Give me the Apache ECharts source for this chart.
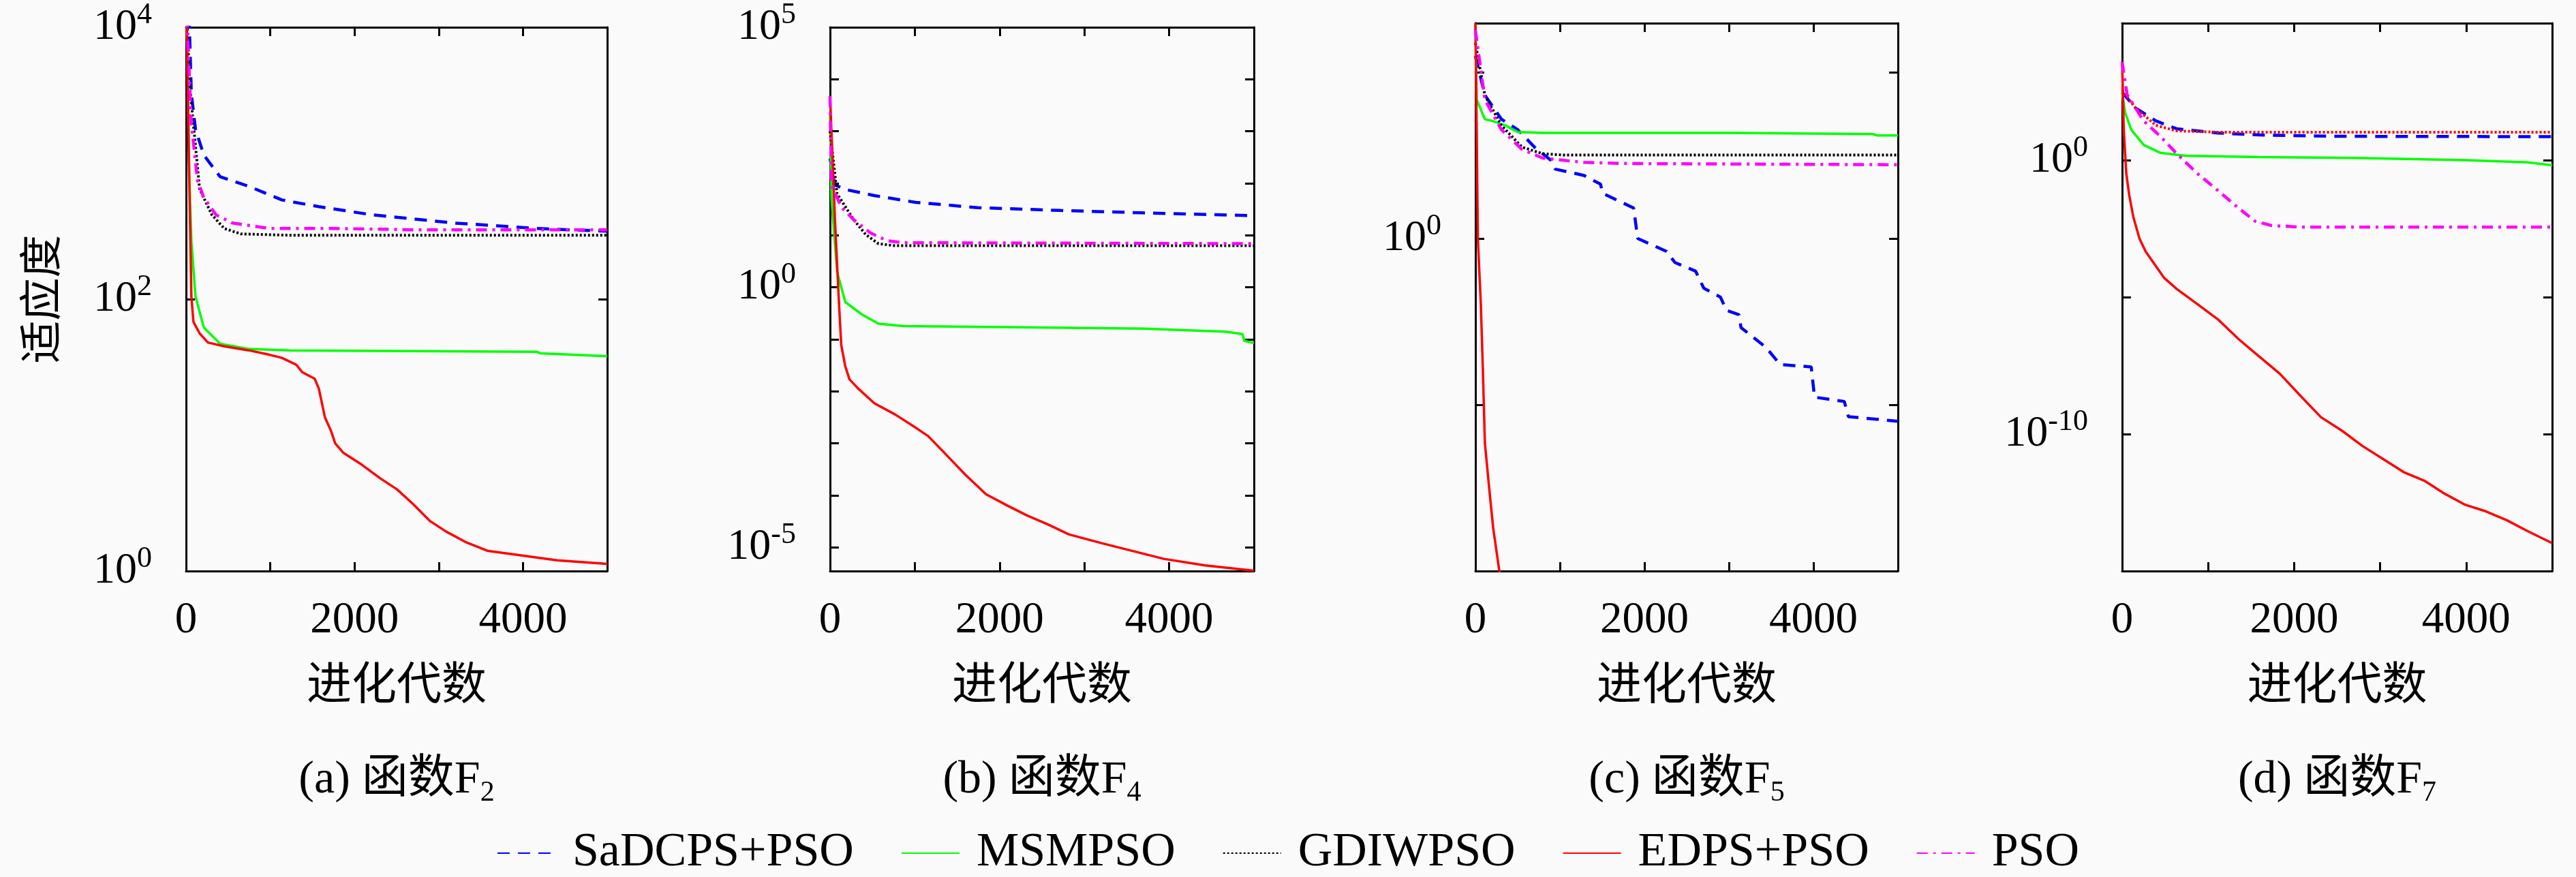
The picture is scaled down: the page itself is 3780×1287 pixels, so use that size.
<!DOCTYPE html>
<html>
<head>
<meta charset="utf-8">
<title>收敛曲线</title>
<script src="https://cdn.jsdelivr.net/npm/echarts@6/dist/echarts.min.js"></script>
<style>
html, body { margin: 0; padding: 0; background: #fafafa; }
#main { width: 3780px; height: 1287px; }
</style>
</head>
<body>
<div id="main"></div>
<script>
// 算法名称（图例顺序）
var seriesNames = ['SaDCPS+PSO', 'MSMPSO', 'GDIWPSO', 'EDPS+PSO', 'PSO'];

// 子图标题
var captions = ['(a) 函数F', '(b) 函数F', '(c) 函数F', '(d) 函数F'];
var captionSubs = ['2', '4', '5', '7'];

// 横轴：进化代数
var xMin = 0;
var xMax = 5000;
var xLabelValues = [0, 2000, 4000];

// 纵轴（对数）范围、刻度指数与标签指数
var yMin = [1, 3.5e-6, 1e-10, 1e-15];
var yMax = [1e4, 1e5, 3e6, 1e5];
var yTickExps = [[0, 2, 4], [-5, -4, -3, -2, -1, 0, 1, 2, 3, 4, 5], [-10, -5, 0, 5], [-15, -10, -5, 0, 5]];
var yLabelExps = [[0, 2, 4], [-5, 0, 5], [0], [-10, 0]];

// ---- 函数F2 ----
var f2Sadcps = [[0, 12000], [40, 10000], [63, 3240], [112, 1780], [210, 1150], [405, 795], [746, 676], [1137, 537],
	[1576, 479], [2210, 417], [2698, 389], [3185, 363], [3673, 347], [4160, 331], [5000, 316]];
var f2Msmpso = [[0, 12000], [10, 10000], [39, 794], [63, 269], [112, 105], [210, 62], [405, 47], [746, 43],
	[1234, 42], [4160, 41], [4210, 40], [5000, 38]];
var f2Gdiwpso = [[0, 12000], [20, 9000], [39, 3980], [161, 646], [307, 417], [454, 331], [649, 302], [1234, 295], [5000, 295]];
var f2Edps = [[0, 12000], [10, 10000], [30, 1500], [63, 105], [88, 68], [161, 56], [259, 48], [454, 45], [746, 42],
	[990, 39], [1137, 37], [1307, 33], [1380, 29], [1527, 26], [1576, 22], [1649, 13.5], [1722, 10.7], [1771, 8.7],
	[1868, 7.4], [2063, 6.2], [2307, 4.8], [2502, 4.0], [2698, 3.1], [2893, 2.34], [3088, 1.95], [3332, 1.62],
	[3576, 1.41], [3917, 1.32], [4405, 1.20], [5000, 1.13]];
var f2Pso = [[0, 12000], [15, 10000], [63, 1950], [137, 741], [210, 562], [356, 417], [551, 363], [990, 331],
	[1722, 331], [2700, 324], [5000, 324]];

// ---- 函数F4 ----
var f4Sadcps = [[0, 300], [58, 93], [180, 76], [522, 58], [1010, 43], [1741, 34], [2717, 30], [3693, 27], [4912, 24], [5000, 24]];
var f4Msmpso = [[0, 2000], [17, 52], [83, 2.0], [180, 0.52], [376, 0.30], [571, 0.20], [863, 0.18], [2229, 0.17],
	[3693, 0.16], [4669, 0.14], [4864, 0.126], [4888, 0.093], [5000, 0.085]];
var f4Gdiwpso = [[0, 1000], [83, 63], [278, 20], [424, 10.2], [571, 6.9], [766, 6.3], [5000, 6.3]];
var f4Edps = [[0, 4700], [58, 20], [107, 0.44], [132, 0.078], [180, 0.030], [229, 0.017], [327, 0.0115], [522, 0.0059],
	[766, 0.0036], [1010, 0.0020], [1156, 0.00138], [1351, 0.00065], [1595, 0.00025], [1839, 0.000105],
	[2083, 6.46e-5], [2327, 4.07e-5], [2571, 2.75e-5], [2815, 1.78e-5], [3205, 1.2e-5], [3595, 8.3e-6],
	[3937, 6.0e-6], [4425, 4.5e-6], [5000, 3.55e-6]];
var f4Pso = [[0, 4700], [17, 93], [132, 35], [278, 20], [473, 11.2], [668, 7.9], [863, 7.2], [5000, 6.9]];

// ---- 函数F5 ----
var f5Sadcps = [[0, 3.1e5], [112, 2.04e4], [308, 3890], [503, 1862], [699, 562], [894, 224], [943, 123], [1285, 79],
	[1481, 43], [1505, 23], [1872, 8.3], [1921, 1], [2263, 0.41], [2361, 0.19], [2605, 0.105], [2703, 0.032],
	[2899, 0.0174], [2972, 0.0069], [3119, 0.0051], [3143, 0.0021], [3436, 0.00054], [3607, 0.000162],
	[3974, 0.000138], [4013, 1.7e-5], [4365, 1.26e-5], [4414, 4.4e-6], [5000, 3.2e-6]];
var f5Msmpso = [[0, 2.9e6], [15, 15100], [112, 3890], [210, 3390], [357, 2510], [503, 1590], [797, 1510], [3000, 1510],
	[4706, 1380], [4755, 1260], [5000, 1260]];
var f5Gdiwpso = [[0, 7.6e5], [112, 20400], [308, 2510], [552, 562], [797, 355], [1041, 324], [5000, 324]];
var f5Edps = [[0, 3e6], [15, 1862], [29, 1], [64, 0.011], [88, 0.00012], [112, 7.2e-7], [161, 3.5e-8], [210, 2.0e-9],
	[283, 1e-10], [320, 1e-11]];
var f5Pso = [[0, 1.86e6], [112, 15100], [308, 1862], [552, 479], [797, 263], [1285, 195], [1800, 180], [5000, 166]];

// ---- 函数F7 ----
var f7Sadcps = [[0, 300], [154, 81], [393, 27], [633, 14], [1113, 9.8], [1593, 8.3], [2500, 7.4], [5000, 7.2]];
var f7Msmpso = [[0, 300], [34, 56], [106, 12.9], [250, 3.6], [441, 1.86], [729, 1.45], [1593, 1.29], [2700, 1.2],
	[3992, 1.0], [4712, 0.83], [5000, 0.65]];
var f7Gdiwpso = [[0, 355], [154, 81], [393, 18.6], [633, 11.7], [1113, 10.5], [5000, 10.5]];
var f7Edps = [[0, 3800], [19, 12.9], [48, 0.33], [82, 0.054], [130, 0.0085], [202, 0.00135], [274, 4.6e-4],
	[345, 2.2e-4], [489, 5.0e-5], [633, 2.0e-5], [873, 5.6e-6], [1113, 1.55e-6], [1353, 2.95e-7], [1593, 6.8e-8],
	[1833, 1.6e-8], [2073, 2.5e-9], [2313, 4.1e-10], [2553, 1.35e-10], [2793, 3.7e-11], [3033, 1.23e-11],
	[3273, 4.1e-12], [3512, 2.0e-12], [3752, 6.6e-13], [3992, 2.6e-13], [4232, 1.5e-13], [4472, 7.2e-14],
	[4712, 2.9e-14], [5000, 1.05e-14]];
var f7Pso = [[0, 3800], [58, 245], [250, 27], [441, 7.6], [633, 1.74], [873, 0.33], [1113, 0.078], [1353, 0.0178],
	[1545, 0.0059], [1737, 0.0041], [2073, 0.0036], [5000, 0.0036]];

var panelData = [
	[f2Sadcps, f2Msmpso, f2Gdiwpso, f2Edps, f2Pso],
	[f4Sadcps, f4Msmpso, f4Gdiwpso, f4Edps, f4Pso],
	[f5Sadcps, f5Msmpso, f5Gdiwpso, f5Edps, f5Pso],
	[f7Sadcps, f7Msmpso, f7Gdiwpso, f7Edps, f7Pso]
];

// 样式
var serif = "'Liberation Serif', 'Times New Roman', serif";
var cjk = "'Liberation Serif', 'Noto Sans CJK SC', serif";
var lineColors = ['#0000ff', '#00ff00', '#000000', '#ff0000', '#ff00ff'];
var lineTypes = [[18, 12], 'solid', [3, 3], 'solid', [16, 8, 4, 8]];
var lineWidths = [4.5, 3.5, 4, 3.5, 4.5];
var gridLeft = [273, 1218, 2165, 3114];
var gridWidth = [618, 622, 620, 631];
var gridTop = 34;
var gridHeight = 804;

var myChart = echarts.init(document.getElementById('main'));

function powers(exps) {
	return exps.map(function (e) { return Math.pow(10, e); });
}

function yLabelFormatter(v) {
	return '{m|10}{s|' + Math.round(Math.log10(v)) + '}';
}

var axisLineStyle = {show: true, onZero: false, lineStyle: {color: '#000', width: 3}};
var tickStyle = {show: true, inside: true, length: 13, lineStyle: {color: '#000', width: 3}};

var grids = [], xAxes = [], yAxes = [], series = [], titles = [];
for (var p = 0; p < 4; p++) {
	grids.push({left: gridLeft[p], top: gridTop, width: gridWidth[p], height: gridHeight, containLabel: false});

	var xBase = {
		type: 'value', gridIndex: p, min: xMin, max: xMax, interval: 1000,
		axisLine: axisLineStyle, axisTick: tickStyle, splitLine: {show: false}
	};
	xAxes.push(echarts.util.merge({
		position: 'bottom',
		axisLabel: {
			margin: 40, fontSize: 65, fontFamily: serif, color: '#000',
			formatter: function (v) { return xLabelValues.indexOf(v) >= 0 ? String(v) : ''; }
		},
		name: '进化代数', nameLocation: 'middle', nameGap: 138,
		nameTextStyle: {fontSize: 66, fontFamily: cjk, color: '#000'}
	}, xBase, true));
	xAxes.push(echarts.util.merge({position: 'top', axisLabel: {show: false}}, xBase, true));

	var yBase = {
		type: 'log', logBase: 10, gridIndex: p, min: yMin[p], max: yMax[p],
		axisLine: axisLineStyle,
		axisTick: echarts.util.merge({customValues: powers(yTickExps[p])}, tickStyle, true),
		splitLine: {show: false}
	};
	var yLeft = echarts.util.merge({
		position: 'left',
		axisLabel: {
			customValues: powers(yLabelExps[p]),
			margin: 50, color: '#000', formatter: yLabelFormatter,
			hideOverlap: false,
			rich: {
				m: {fontSize: 64, fontFamily: serif, color: '#000', lineHeight: 80},
				s: {fontSize: 44, fontFamily: serif, color: '#000', lineHeight: 44, verticalAlign: 'top'}
			}
		}
	}, yBase, true);
	if (p === 0) {
		yLeft.name = '适应度';
		yLeft.nameLocation = 'middle';
		yLeft.nameRotate = 90;
		yLeft.nameGap = 176;
		yLeft.nameTextStyle = {fontSize: 63, fontFamily: cjk, color: '#000'};
	}
	yAxes.push(yLeft);
	yAxes.push(echarts.util.merge({position: 'right', axisLabel: {show: false}}, yBase, true));

	for (var s = 0; s < seriesNames.length; s++) {
		var color = lineColors[s];
		// 函数F7 中 GDIWPSO 曲线为红色点线
		if (p === 3 && s === 2) {
			color = '#ff0000';
		}
		series.push({
			name: seriesNames[s],
			type: 'line',
			xAxisIndex: p * 2,
			yAxisIndex: p * 2,
			data: panelData[p][s],
			symbol: 'none',
			showSymbol: false,
			clip: true,
			lineStyle: {color: color, width: lineWidths[s], type: lineTypes[s]},
			itemStyle: {color: color},
			emphasis: {disabled: true}
		});
	}

	titles.push({
		text: '{m|' + captions[p] + '}{s|' + captionSubs[p] + '}',
		left: gridLeft[p] + gridWidth[p] / 2,
		top: 1105,
		textAlign: 'center',
		padding: 0,
		textStyle: {
			fontWeight: 'normal',
			rich: {
				m: {fontSize: 68, fontFamily: cjk, fontWeight: 'normal', color: '#000', lineHeight: 80},
				s: {fontSize: 42, fontFamily: serif, fontWeight: 'normal', color: '#000', lineHeight: 42, verticalAlign: 'bottom'}
			}
		}
	});
}

var option = {
	backgroundColor: '#fafafa',
	animation: false,
	title: titles,
	grid: grids,
	xAxis: xAxes,
	yAxis: yAxes,
	legend: {
		data: seriesNames,
		left: 'center',
		top: 1212,
		itemWidth: 85,
		itemHeight: 20,
		itemGap: 69,
		itemStyle: {opacity: 0, borderWidth: 0},
		textStyle: {fontSize: 70, fontFamily: serif, color: '#000', padding: [0, 0, 0, 20]}
	},
	series: series
};
myChart.setOption(option);
</script>
</body>
</html>
